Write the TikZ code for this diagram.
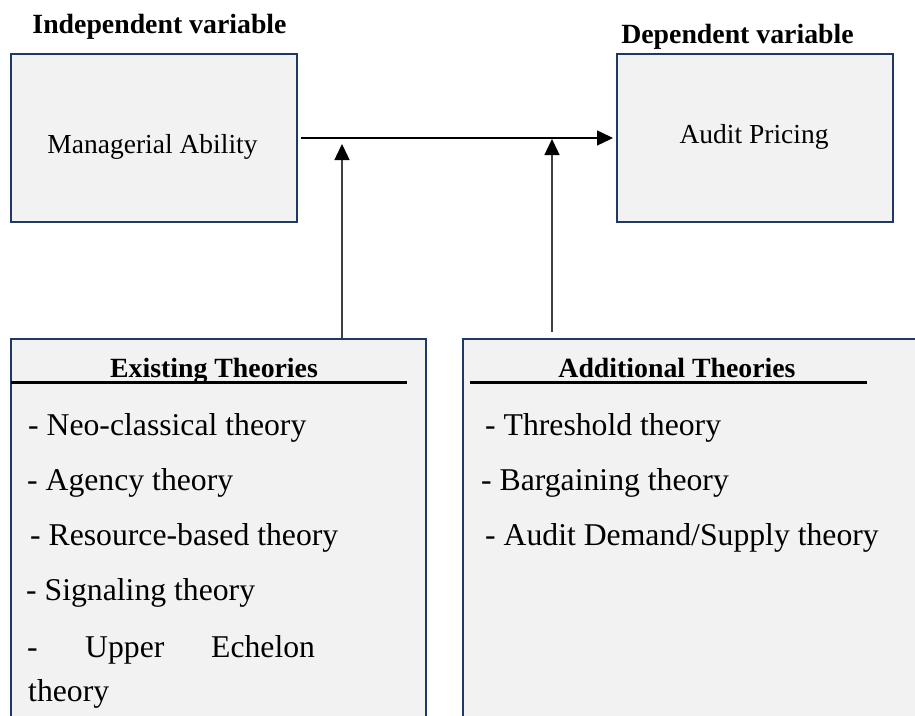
\documentclass[tikz,border=0pt]{standalone}
\usepackage{fontspec}
\setmainfont{Liberation Serif}
\usetikzlibrary{arrows.meta}
\definecolor{boxfill}{HTML}{F2F2F2}
\definecolor{boxline}{HTML}{1F3864}
\definecolor{arrgray}{HTML}{404040}
\begin{document}
\begin{tikzpicture}[x=1pt,y=-1pt,
  varbox/.style={draw=boxline, fill=boxfill, line width=2pt, inner sep=0pt},
  headlbl/.style={font=\fontsize{27.8}{33}\selectfont\bfseries, anchor=base, inner sep=0pt},
  boxlbl/.style={font=\fontsize{27.5}{33}\selectfont, anchor=base, inner sep=0pt},
  itemlbl/.style={font=\fontsize{31.7}{38}\selectfont, anchor=base west, inner sep=0pt},
  conn/.style={line width=1.4pt, -{Triangle[width=15pt,length=16pt,color=black]}},
  uline/.style={line width=3pt}
]
\useasboundingbox (0,0) rectangle (915,715);

% top boxes
\node[varbox, minimum width=286pt, minimum height=168pt] (ma) at (154,138) {};
\node[varbox, minimum width=276pt, minimum height=168pt] (ap) at (755,138) {};
\node[boxlbl] (matxt) at (152.5,153) {Managerial Ability};
\node[boxlbl] (aptxt) at (754,143) {Audit Pricing};
\node[headlbl] (indep) at (159.5,33) {Independent variable};
\node[headlbl] (dep) at (737.5,43) {Dependent variable};

% bottom boxes (run past the bottom edge)
\node[varbox, minimum width=415pt, minimum height=381pt] (ex) at (218.5,529.5) {};
\node[varbox, minimum width=462pt, minimum height=381pt] (ad) at (694,529.5) {};

% connectors
\draw[conn, black] ([xshift=3pt]ma.east) -- ([xshift=-3pt]ap.west);
\coordinate (m1) at (342,144);
\coordinate (m2) at (552,139);
\draw[conn, arrgray] (ex.north -| m1) -- (m1);
\draw[conn, arrgray] ([yshift=6pt]ad.north -| m2) -- (m2);

% headings of theory boxes
\node[headlbl] (extitle) at (214,377) {Existing Theories};
\node[headlbl] (adtitle) at (677,377) {Additional Theories};
\draw[uline] (11,382) -- (407,382);
\draw[uline] (470,382) -- (867,382);

% existing theories
\node[itemlbl] (e1) at (28,435) {- Neo-classical theory};
\node[itemlbl] (e2) at (27,490) {- Agency theory};
\node[itemlbl] (e3) at (30,545) {- Resource-based theory};
\node[itemlbl] (e4) at (26,600) {- Signaling theory};
\node[itemlbl] (e5a) at (27,657) {-};
\node[itemlbl] (e5b) at (85,657) {Upper};
\node[itemlbl] (e5c) at (211,657) {Echelon};
\node[itemlbl] (e6) at (28,701) {theory};

% additional theories
\node[itemlbl] (a1) at (485,435) {- Threshold theory};
\node[itemlbl] (a2) at (481,490) {- Bargaining theory};
\node[itemlbl] (a3) at (485,545) {- Audit Demand/Supply theory};
\end{tikzpicture}
\end{document}
